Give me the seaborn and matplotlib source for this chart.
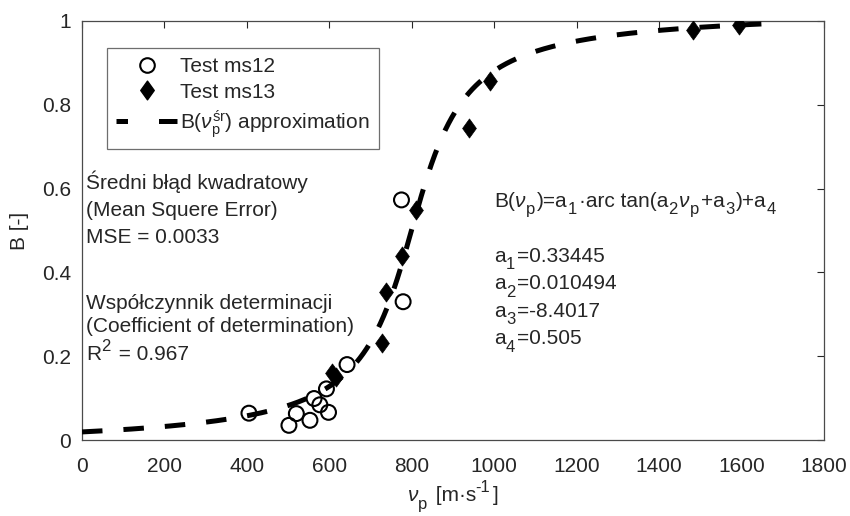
import numpy as np
import pandas as pd
import seaborn as sns
import matplotlib
matplotlib.use("Agg")
import matplotlib.pyplot as plt
from matplotlib.lines import Line2D
from matplotlib.markers import MarkerStyle
from matplotlib.path import Path
from matplotlib.transforms import offset_copy

# Measured points
ms12_v = [405, 502, 520, 553, 563, 577, 593, 598, 643, 775, 779]
ms12_B = [0.064, 0.035, 0.063, 0.047, 0.099, 0.084, 0.122, 0.066, 0.180, 0.573, 0.330]
ms13_v = [606, 617, 727, 737, 776, 810, 938, 989, 1482, 1595]
ms13_B = [0.159, 0.151, 0.231, 0.354, 0.440, 0.549, 0.744, 0.857, 0.979, 0.990]

# Fit coefficients: B(v) = a1*atan(a2*v + a3) + a4
a1, a2, a3, a4 = 0.33445, 0.010494, -8.4017, 0.505
v_fit = np.linspace(0, 1650, 400)
B_fit = a1 * np.arctan(a2 * v_fit + a3) + a4

x_ticks = [0, 200, 400, 600, 800, 1000, 1200, 1400, 1600, 1800]
y_ticks = [0, 0.2, 0.4, 0.6, 0.8, 1]
y_tick_labels = ["0", "0.2", "0.4", "0.6", "0.8", "1"]

sns.set_theme(style="white")
txt = "#262626"
plt.rcParams.update({
    "font.family": ["Liberation Sans", "DejaVu Sans"],
    "mathtext.fontset": "custom",
    "mathtext.rm": "Liberation Sans",
    "mathtext.it": "Liberation Sans:italic",
    "mathtext.bf": "Liberation Sans:bold",
    "text.color": txt,
    "axes.labelcolor": txt,
    "xtick.color": txt,
    "ytick.color": txt,
})
FS = 15
DPI = 100

fig = plt.figure(figsize=(8.5, 5.16), dpi=DPI)
ax = fig.add_axes([82 / 850, 1 - 440 / 516, 742 / 850, 419 / 516])
renderer = fig.canvas.get_renderer()


def rich_text(x, y, pieces, transform, fs=FS, ha="left"):
    """Draw text built from pieces: 'n' normal, 'i' italic, 'sub', 'sup'."""
    specs = []
    for s, kind in pieces:
        script = kind in ("sub", "sup")
        size = 0.8 * fs if script else fs
        dy = {"n": 0, "i": 0, "sub": -0.36 * fs, "sup": 0.45 * fs}[kind]
        style = "italic" if kind == "i" else "normal"
        tmp = fig.text(0, 0, s, fontsize=size, fontstyle=style)
        w = tmp.get_window_extent(renderer).width * 72 / DPI
        tmp.remove()
        if script:
            w += 1.4
        specs.append((s, size, dy, style, w))
    total = sum(sp[4] for sp in specs)
    dx = -total / 2 if ha == "center" else 0.0
    for s, size, dy, style, w in specs:
        tr = offset_copy(transform, fig=fig, x=dx, y=dy, units="points")
        fig.text(x, y, s, fontsize=size, fontstyle=style, transform=tr,
                 va="baseline", ha="left")
        dx += w


diamond = MarkerStyle(Path([(0, 1), (0.72, 0), (0, -1), (-0.72, 0), (0, 1)],
                           [Path.MOVETO, Path.LINETO, Path.LINETO, Path.LINETO, Path.CLOSEPOLY]))

df12 = pd.DataFrame({"v": ms12_v, "B": ms12_B})
df13 = pd.DataFrame({"v": ms13_v, "B": ms13_B})
dffit = pd.DataFrame({"v": v_fit, "B": B_fit})

sns.scatterplot(data=df12, x="v", y="B", ax=ax, marker="o", s=115,
                facecolors="none", edgecolor="black", linewidth=1.5, zorder=3)
sns.scatterplot(data=df13, x="v", y="B", ax=ax, marker=diamond, s=190,
                color="black", edgecolor="black", linewidth=0.5, zorder=3)
sns.lineplot(data=dffit, x="v", y="B", ax=ax, color="black", lw=3.6, zorder=4)
ax.lines[-1].set_dashes((4.1, 4.2))

ax.set_xlim(0, 1800)
ax.set_ylim(0, 1)
ax.set_xticks(x_ticks)
ax.set_yticks(y_ticks)
ax.set_yticklabels(y_tick_labels)
ax.tick_params(direction="in", length=5, width=0.8, top=True, right=True,
               labelsize=FS)
ax.tick_params(axis="x", pad=12)
ax.tick_params(axis="y", pad=8)
for sp in ax.spines.values():
    sp.set_color("#4a4a4a")
    sp.set_linewidth(0.9)

ax.set_xlabel("")
ax.set_ylabel("B [-]", fontsize=FS, labelpad=9)
rich_text(453 / 850, 1 - 501 / 516,
          [("ν", "i"), ("p", "sub"), (" [m·s", "n"), ("-1", "sup"), ("]", "n")],
          fig.transFigure, ha="center")

# Goodness-of-fit annotations
left_lines = [
    ([("Średni błąd kwadratowy", "n")], 0.598),
    ([("(Mean Squere Error)", "n")], 0.535),
    ([("MSE = 0.0033", "n")], 0.471),
    ([("Współczynnik determinacji", "n")], 0.312),
    ([("(Coefficient of determination)", "n")], 0.2585),
    ([("R", "n"), ("2", "sup"), (" = 0.967", "n")], 0.191),
]
for pieces, y in left_lines:
    rich_text(10, y, pieces, ax.transData)

right_lines = [
    ([("B(", "n"), ("ν", "i"), ("p", "sub"), (")=a", "n"), ("1", "sub"),
      ("·arc tan(a", "n"), ("2", "sub"), ("ν", "i"), ("p", "sub"),
      ("+a", "n"), ("3", "sub"), (")+a", "n"), ("4", "sub")], 0.557),
    ([("a", "n"), ("1", "sub"), ("=0.33445", "n")], 0.4255),
    ([("a", "n"), ("2", "sub"), ("=0.010494", "n")], 0.360),
    ([("a", "n"), ("3", "sub"), ("=-8.4017", "n")], 0.294),
    ([("a", "n"), ("4", "sub"), ("=0.505", "n")], 0.229),
]
for pieces, y in right_lines:
    rich_text(1000, y, pieces, ax.transData)

handles = [
    Line2D([], [], ls="none", marker="o", ms=10.5, mfc="none", mec="black", mew=1.5),
    Line2D([], [], ls="none", marker=diamond, ms=13.5, mfc="black", mec="black"),
    Line2D([], [], color="black", lw=3.6, linestyle=(0, (2.3, 6.2, 4.2, 10))),
]
labels = ["Test ms12", "Test ms13", r"B($\nu_{\rm p}^{\rm śr}$) approximation"]
leg = ax.legend(handles, labels, loc="upper left",
                bbox_to_anchor=((107 - 82) / 742, (440 - 48) / 419),
                borderaxespad=0, fontsize=FS, frameon=True, fancybox=False,
                handlelength=2.9, handletextpad=0.15, labelspacing=0.3,
                borderpad=0.45)
leg.get_frame().set_edgecolor("#4a4a4a")
leg.get_frame().set_linewidth(0.9)

fig.savefig("out.png", dpi=DPI)
